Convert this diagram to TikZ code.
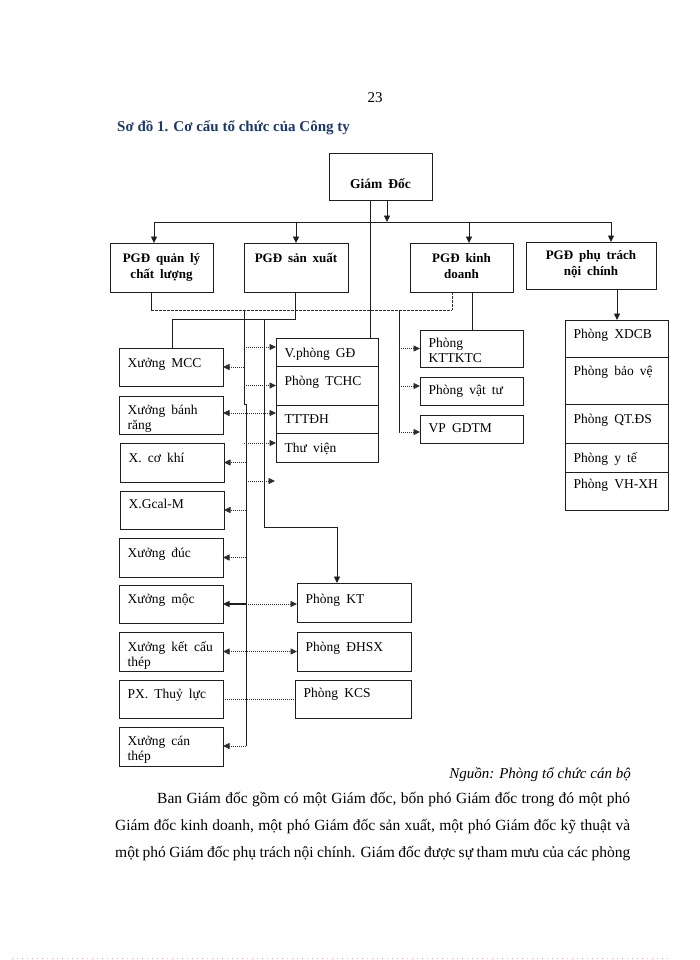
\documentclass[tikz,border=0pt]{standalone}
\usepackage{fontspec}
\setmainfont{Liberation Serif}
\newfontfamily\boxfont[WordSpace=1.8]{Liberation Serif}
\usetikzlibrary{arrows.meta}
\definecolor{ttl}{RGB}{31,56,100}
\definecolor{ln}{RGB}{30,30,30}
\definecolor{dt}{RGB}{45,45,45}
\newcommand\cellbox[7]{%
  \node[box, minimum width=#4pt, minimum height=#5pt] (#1) at (#2,#3) {};
  \node[btxt] (#1t) at ([xshift=8.5pt,yshift=-#6pt]#1.north west) {\rule{0pt}{13pt}#7};}
\begin{document}
\begin{tikzpicture}[x=1pt,y=-1pt,
  box/.style={draw=ln, line width=0.8pt, anchor=north west, inner sep=0pt, outer sep=0pt},
  btxt/.style={anchor=north west, inner sep=0pt, align=left, font=\boxfont\fontsize{13.5}{15.5}\selectfont},
  bold/.style={anchor=north, inner sep=0pt, align=center, font=\boxfont\bfseries\fontsize{13}{16}\selectfont},
  line/.style={draw=ln, line width=0.8pt},
  tip/.tip={Triangle[length=6.5pt,width=6pt]},
  arr/.style={line, -tip},
  dline/.style={draw=dt, line width=0.8pt, dash pattern=on 1.1pt off 0.9pt},
  darr/.style={dline, -tip},
  ddarr/.style={dline, tip-tip},
  dsh/.style={draw=dt, line width=0.8pt, dash pattern=on 2.5pt off 1.5pt},
]
\fill[white] (0,0) rectangle (700,960);
\useasboundingbox (0,0) rectangle (700,960);

% page texts
\node[anchor=base, inner sep=0pt, font=\fontsize{15}{18}\selectfont] (pg) at (375,103) {23};
\node[anchor=base west, inner sep=0pt, text=ttl, font=\bfseries\fontsize{15}{18}\selectfont] (title) at (117,132) {Sơ đồ 1. Cơ cấu tổ chức của Công ty};

% top level
\node[box, minimum width=103pt, minimum height=47pt] (gd) at (329,153) {};
\node[bold, font=\boxfont\bfseries\fontsize{13.5}{16}\selectfont] (gdt) at ([yshift=-22pt]gd.north) {\rule{0pt}{13pt}Giám Đốc};

\node[box, minimum width=103pt, minimum height=49pt] (ql) at (110,243) {};
\node[bold] (qlt) at ([yshift=-6pt]ql.north) {\rule{0pt}{13pt}PGĐ quản lý\\chất lượng};
\node[box, minimum width=104pt, minimum height=49pt] (sx) at (244,243) {};
\node[bold] (sxt) at ([yshift=-6pt]sx.north) {\rule{0pt}{13pt}PGĐ sản xuất};
\node[box, minimum width=103pt, minimum height=49pt] (kd) at (410,243) {};
\node[bold] (kdt) at ([yshift=-6pt]kd.north) {\rule{0pt}{13pt}PGĐ kinh\\doanh};
\node[box, minimum width=130pt, minimum height=47pt] (pt) at (526,242) {};
\node[bold] (ptt) at ([yshift=-4pt]pt.north) {\rule{0pt}{13pt}PGĐ phụ trách\\nội chính};

% left column
\cellbox{mcc}{119}{348}{104}{38}{6}{Xưởng MCC}
\cellbox{br}{119}{396}{104}{38}{5}{Xưởng bánh\\răng}
\cellbox{ck}{120}{443}{104}{39}{6}{X. cơ khí}
\cellbox{gc}{120}{491}{104}{38}{4}{X.Gcal-M}
\cellbox{duc}{119}{538}{104}{39}{6}{Xưởng đúc}
\cellbox{moc}{119}{585}{104}{38}{5}{Xưởng mộc}
\cellbox{kc}{119}{632}{104}{39}{6}{Xưởng kết cấu\\thép}
\cellbox{tl}{119}{680}{104}{38}{5}{PX. Thuỷ lực}
\cellbox{ct}{119}{727}{104}{39}{5}{Xưởng cán\\thép}

% middle stack
\cellbox{vp}{276}{338}{102}{28}{6}{V.phòng GĐ}
\cellbox{tchc}{276}{366}{102}{39}{6}{Phòng TCHC}
\cellbox{ttt}{276}{405}{102}{28}{5}{TTTĐH}
\cellbox{tv}{276}{433}{102}{29}{6}{Thư viện}

% business sub-boxes
\cellbox{ktc}{420}{330}{103}{37}{4}{Phòng\\KTTKTC}
\cellbox{vt}{420}{377}{103}{28}{4}{Phòng vật tư}
\cellbox{gdtm}{420}{415}{103}{28}{4}{VP GDTM}

% production offices
\cellbox{pkt}{297}{583}{114}{39}{7}{Phòng KT}
\cellbox{dhsx}{297}{632}{114}{39}{6}{Phòng ĐHSX}
\cellbox{kcs}{295}{680}{116}{38}{4}{Phòng KCS}

% right column
\cellbox{xdcb}{565}{320}{103}{37}{5}{Phòng XDCB}
\cellbox{bv}{565}{357}{103}{47}{5}{Phòng bảo vệ}
\cellbox{qt}{565}{404}{103}{39}{6}{Phòng QT.ĐS}
\cellbox{yt}{565}{443}{103}{29}{6}{Phòng y tế}
\cellbox{vh}{565}{472}{103}{38}{3}{Phòng VH-XH}

% coordinates
\coordinate (busL) at (154,222);
\coordinate (busSX) at (296,222);
\coordinate (busKD) at (469,222);
\coordinate (busR) at (611,222);
\coordinate (gdA) at (387,222);
\coordinate (gdv) at (370,0);
\coordinate (d1) at (151,310);
\coordinate (d2) at (452,310);
\coordinate (kdv) at (472,0);
\coordinate (s1) at (295,319);
\coordinate (s2) at (172,319);
\coordinate (s3) at (264,319);
\coordinate (s4) at (264,527);
\coordinate (s5) at (337,527);
\coordinate (L0) at (244,310);
\coordinate (L1) at (244,404);
\coordinate (L2) at (246,404);
\coordinate (L3) at (246,746);
\coordinate (R0) at (399,310);
\coordinate (R1) at (399,432);
\coordinate (free) at (275,481);
\coordinate (ptv) at (617,0);

% top connectors
\draw[arr] (gdA |- gd.south) -- (gdA);
\draw[line] (busL) -- (busR);
\draw[arr] (busL) -- (busL |- ql.north);
\draw[arr] (busSX) -- (busSX |- sx.north);
\draw[arr] (busKD) -- (busKD |- kd.north);
\draw[arr] (busR) -- (busR |- pt.north);
\draw[line] (gdv |- gd.south) -- (gdv |- vp.north);

% second level
\draw[line] (d1 |- ql.south) -- (d1);
\draw[dsh] (d1) -- (d2);
\draw[dsh] (d2 |- kd.south) -- (d2);
\draw[line] (kdv |- kd.south) -- (kdv |- ktc.north);
\draw[line] (s1 |- sx.south) -- (s1) -- (s2) -- (s2 |- mcc.north);
\draw[arr] (s3) -- (s4) -- (s5) -- (s5 |- pkt.north);
\draw[line] (L0) -- (L1) -- (L2) -- (L3);
\draw[line] (R0) -- (R1);
\draw[arr] (ptv |- pt.south) -- (ptv |- xdcb.north);

% business arrows
\draw[darr] (R0 |- ktc.west) -- (ktc.west);
\draw[darr] ([yshift=5pt]vt.west -| R0) -- ([yshift=5pt]vt.west);
\draw[darr] (R1) -- (R1 -| gdtm.west);

% left bus arrows to the right
\draw[darr] ([yshift=5pt]vp.west -| L0) -- ([yshift=5pt]vp.west);
\draw[darr] (tchc.west -| L0) -- (tchc.west);
\draw[ddarr] ([yshift=2pt]br.east) -- ([yshift=2pt]br.east -| ttt.west);
\draw[darr] ([yshift=4.5pt]tv.west -| L0) -- ([yshift=4.5pt]tv.west);
\draw[darr] (free -| L2) -- (free);

% left bus arrows to the left
\draw[darr] (mcc.east -| L0) -- (mcc.east);
\draw[darr] (ck.east -| L2) -- (ck.east);
\draw[darr] (gc.east -| L2) -- (gc.east);
\draw[darr] (duc.east -| L2) -- (duc.east);
\draw[arr, line width=1.2pt] (moc.east -| L2) -- (moc.east);
\draw[darr] (moc.east -| L2) -- (moc.east -| pkt.west);
\draw[ddarr] (kc.east) -- (kc.east -| dhsx.west);
\draw[dline] (tl.east) -- (tl.east -| kcs.west);
\draw[darr] (L3) -- (L3 -| ct.east);

% source and paragraph
\node[anchor=base east, inner sep=0pt, font=\itshape\fontsize{15}{18}\selectfont] (src) at (631,778) {Nguồn: Phòng tổ chức cán bộ};
\node[anchor=base west, inner sep=0pt, font=\fontsize{15.5}{18}\selectfont] (p1) at (157,803) {\makebox[473pt][s]{Ban Giám đốc gồm có một Giám đốc, bốn phó Giám đốc trong đó một phó}};
\node[anchor=base west, inner sep=0pt, font=\fontsize{15.5}{18}\selectfont] (p2) at (115,830) {\makebox[515pt][s]{Giám đốc kinh doanh, một phó Giám đốc sản xuất, một phó Giám đốc kỹ thuật và}};
\node[anchor=base west, inner sep=0pt, font=\fontsize{15.5}{18}\selectfont] (p3) at (115,857) {\makebox[515pt][s]{một phó Giám đốc phụ trách nội chính. Giám đốc được sự tham mưu của các phòng}};

% page break marker
\draw[draw={rgb,255:red,240;green,170;blue,190}, line width=0.8pt, dash pattern=on 0.8pt off 4.2pt] (12,958) -- (672,958);
\end{tikzpicture}
\end{document}
